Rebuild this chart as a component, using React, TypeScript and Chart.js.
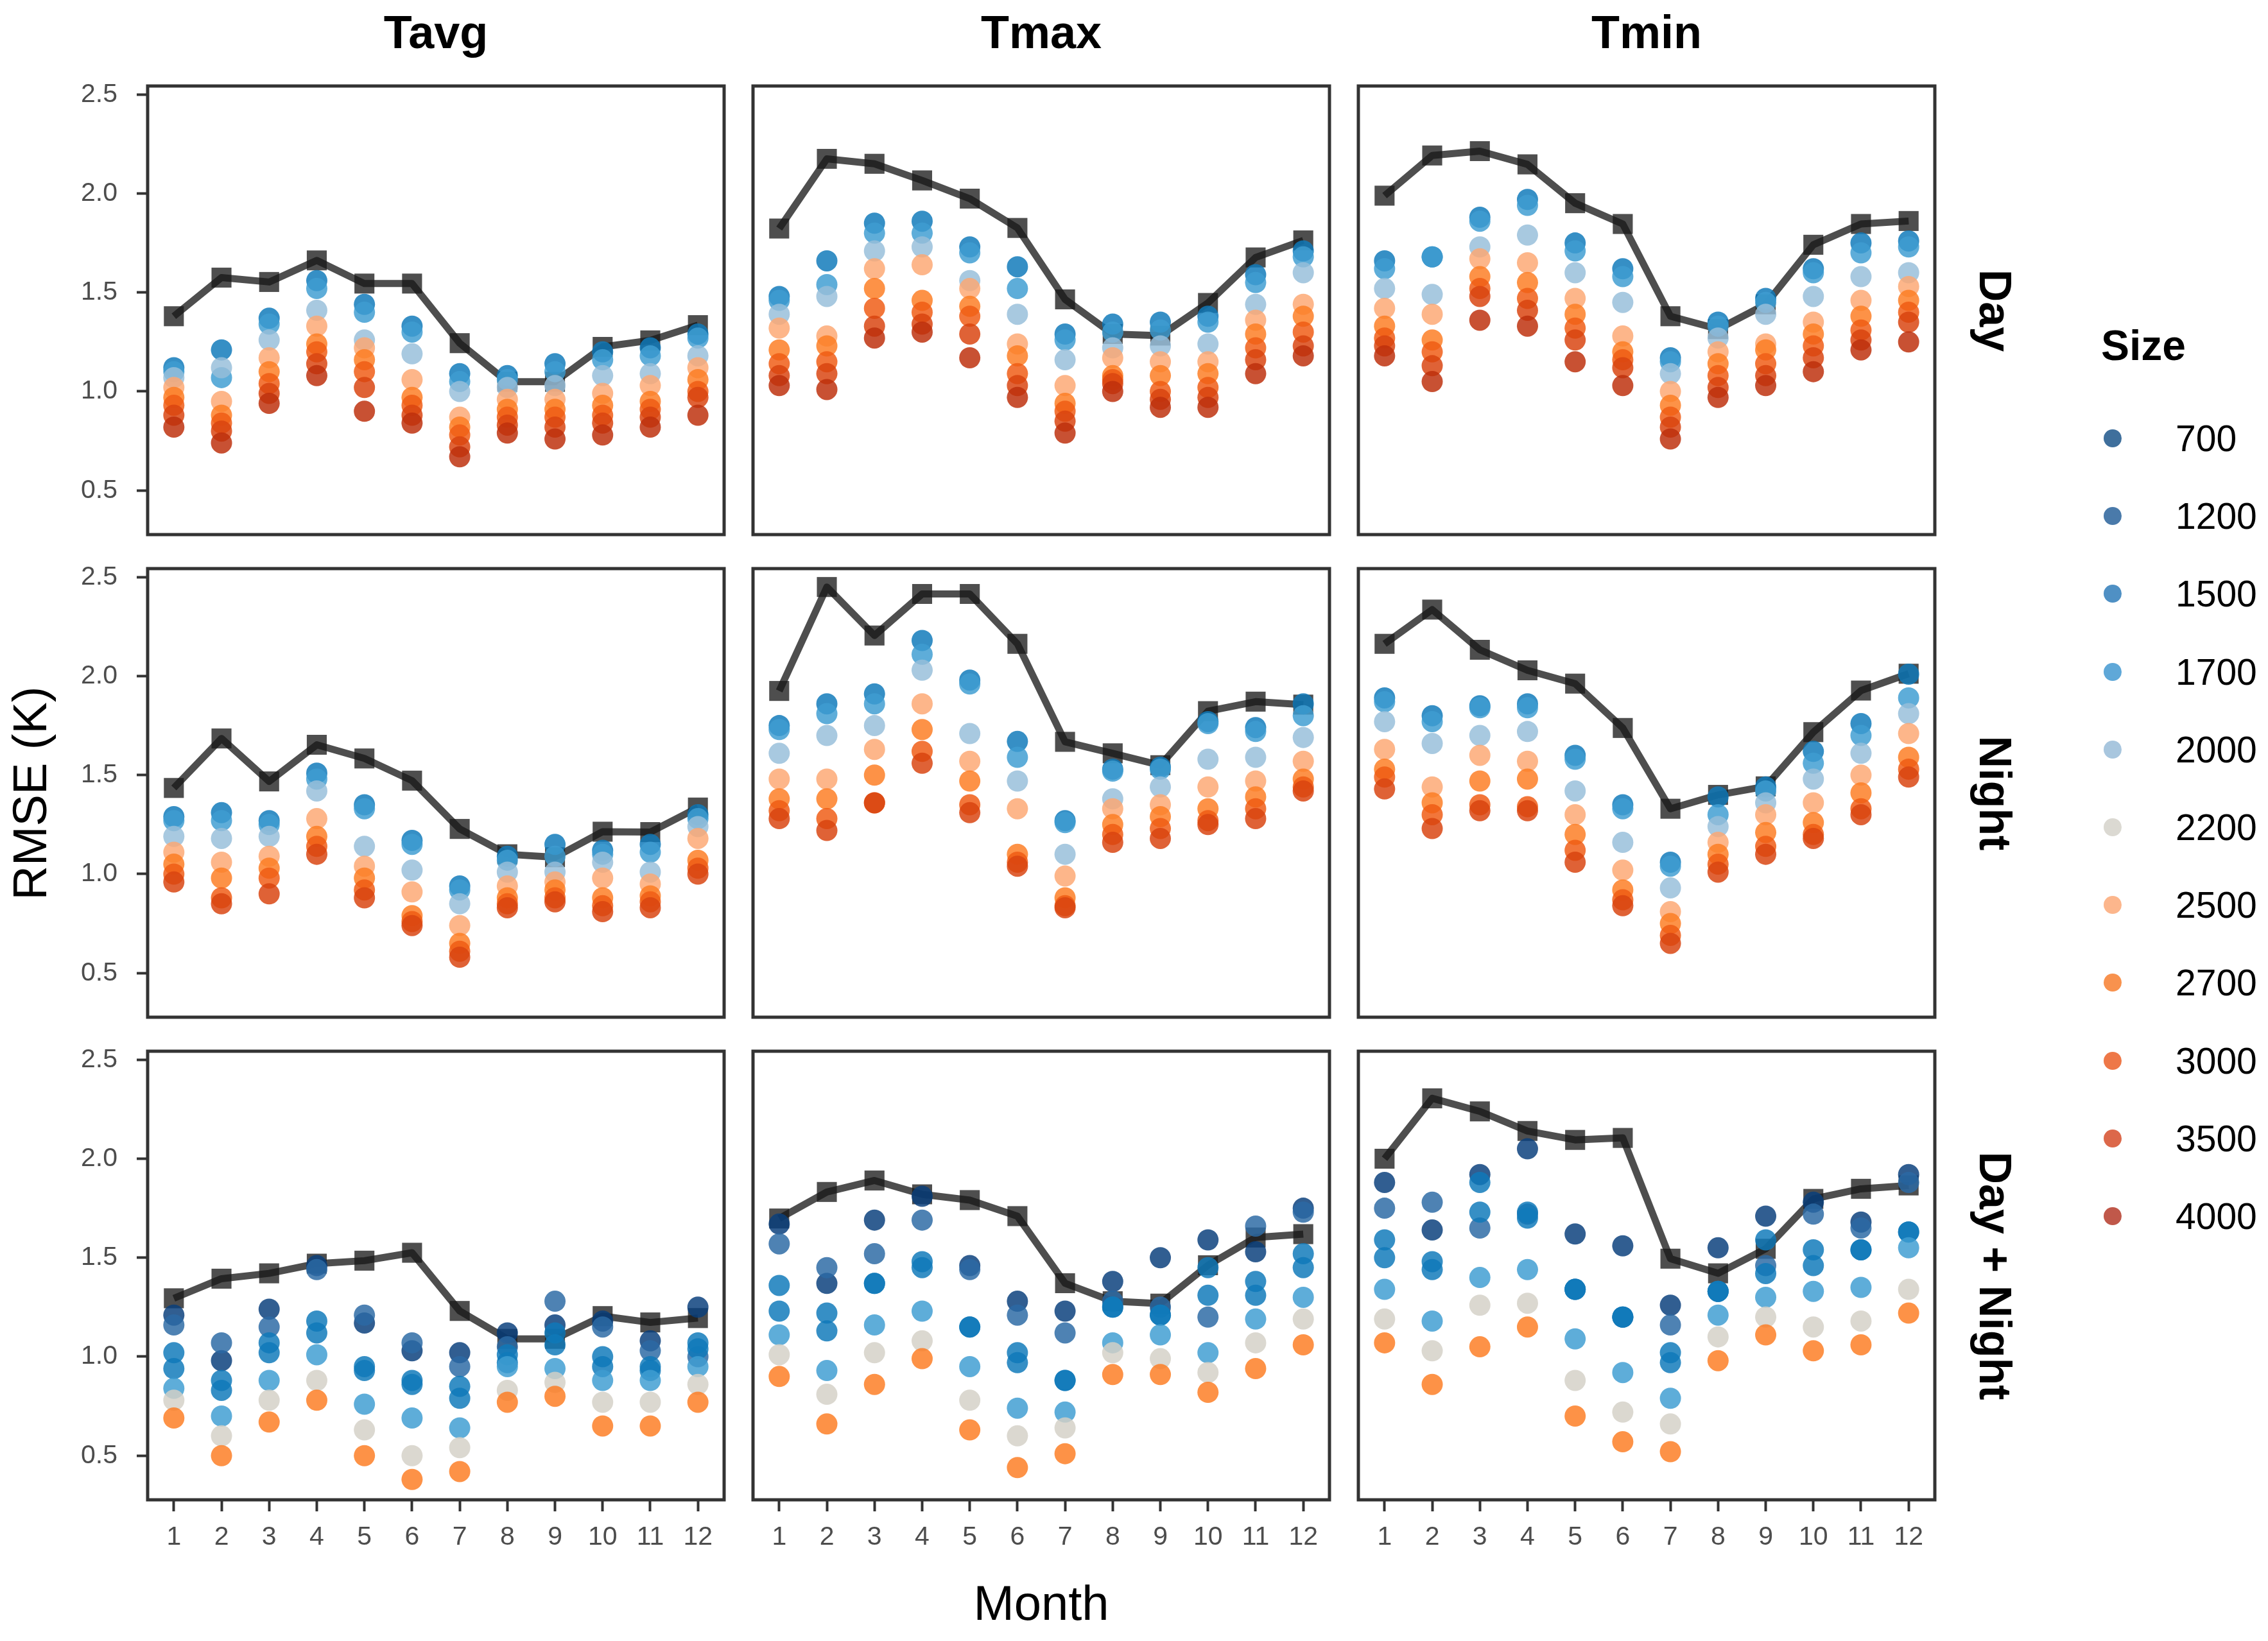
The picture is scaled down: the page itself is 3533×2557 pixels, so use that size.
import React, { useEffect, useRef } from 'react';
import { Chart, registerables } from 'chart.js';

Chart.register(...registerables);

// ---------------- data ----------------
const MONTHS = [1, 2, 3, 4, 5, 6, 7, 8, 9, 10, 11, 12];
const Y_TICKS = [0.5, 1.0, 1.5, 2.0, 2.5];
const COLUMNS = ['Tavg', 'Tmax', 'Tmin'];
const ROWS = ['Day', 'Night', 'Day + Night'];
const SIZES = ['700', '1200', '1500', '1700', '2000', '2200', '2500', '2700', '3000', '3500', '4000'];

type Series = [string, number[]];

// black line (aggregate) per panel
const LINE_DAY_TAVG = [1.38, 1.575, 1.553, 1.662, 1.545, 1.545, 1.244, 1.049, 1.049, 1.225, 1.258, 1.335];
const LINE_DAY_TMAX = [1.823, 2.175, 2.15, 2.066, 1.974, 1.826, 1.465, 1.29, 1.282, 1.447, 1.677, 1.763];
const LINE_DAY_TMIN = [1.989, 2.192, 2.214, 2.147, 1.951, 1.846, 1.38, 1.315, 1.44, 1.741, 1.846, 1.861];
const LINE_NIGHT_TAVG = [1.435, 1.685, 1.468, 1.653, 1.584, 1.472, 1.228, 1.1, 1.085, 1.214, 1.212, 1.336];
const LINE_NIGHT_TMAX = [1.925, 2.45, 2.205, 2.415, 2.415, 2.163, 1.668, 1.61, 1.55, 1.823, 1.871, 1.856];
const LINE_NIGHT_TMIN = [2.163, 2.336, 2.133, 2.029, 1.962, 1.738, 1.33, 1.4, 1.443, 1.717, 1.927, 2.012];
const LINE_DN_TAVG = [1.295, 1.394, 1.421, 1.47, 1.485, 1.525, 1.231, 1.09, 1.09, 1.205, 1.173, 1.195];
const LINE_DN_TMAX = [1.698, 1.832, 1.89, 1.82, 1.791, 1.71, 1.371, 1.28, 1.268, 1.462, 1.602, 1.619];
const LINE_DN_TMIN = [2.0, 2.305, 2.239, 2.14, 2.095, 2.105, 1.495, 1.421, 1.545, 1.797, 1.848, 1.865];

// scatter points per panel (size, value for each month)
const PTS_DAY_TAVG: Series[] = [
  ['1500', [1.12, 1.21, 1.37, 1.56, 1.44, 1.33, 1.09, 1.08, 1.14, 1.20, 1.22, 1.29]],
  ['1700', [1.10, 1.07, 1.34, 1.52, 1.40, 1.30, 1.05, 1.06, 1.10, 1.16, 1.18, 1.27]],
  ['2000', [1.07, 1.12, 1.26, 1.41, 1.26, 1.19, 1.00, 1.02, 1.03, 1.08, 1.09, 1.18]],
  ['2500', [1.02, 0.95, 1.17, 1.33, 1.22, 1.06, 0.87, 0.96, 0.96, 0.99, 1.03, 1.12]],
  ['2700', [0.97, 0.88, 1.10, 1.24, 1.16, 0.97, 0.82, 0.91, 0.91, 0.93, 0.95, 1.06]],
  ['3000', [0.93, 0.84, 1.04, 1.20, 1.10, 0.93, 0.78, 0.87, 0.87, 0.88, 0.91, 1.00]],
  ['3500', [0.88, 0.80, 0.99, 1.14, 1.02, 0.88, 0.72, 0.83, 0.82, 0.84, 0.87, 0.97]],
  ['4000', [0.82, 0.74, 0.94, 1.08, 0.90, 0.84, 0.67, 0.79, 0.76, 0.78, 0.82, 0.88]],
];
const PTS_DAY_TMAX: Series[] = [
  ['1500', [1.48, 1.66, 1.85, 1.86, 1.73, 1.63, 1.29, 1.34, 1.35, 1.38, 1.59, 1.71]],
  ['1700', [1.46, 1.54, 1.80, 1.80, 1.70, 1.52, 1.26, 1.30, 1.31, 1.35, 1.55, 1.68]],
  ['2000', [1.39, 1.48, 1.71, 1.73, 1.56, 1.39, 1.16, 1.22, 1.23, 1.24, 1.44, 1.60]],
  ['2500', [1.32, 1.28, 1.62, 1.64, 1.52, 1.24, 1.03, 1.17, 1.15, 1.15, 1.36, 1.44]],
  ['2700', [1.21, 1.23, 1.52, 1.46, 1.43, 1.18, 0.94, 1.08, 1.08, 1.09, 1.29, 1.38]],
  ['3000', [1.14, 1.15, 1.42, 1.40, 1.38, 1.09, 0.90, 1.06, 1.00, 1.02, 1.22, 1.30]],
  ['3500', [1.08, 1.09, 1.33, 1.34, 1.29, 1.03, 0.85, 1.04, 0.96, 0.97, 1.16, 1.23]],
  ['4000', [1.03, 1.01, 1.27, 1.30, 1.17, 0.97, 0.79, 1.00, 0.92, 0.92, 1.09, 1.18]],
];
const PTS_DAY_TMIN: Series[] = [
  ['1500', [1.66, 1.68, 1.88, 1.97, 1.75, 1.62, 1.17, 1.35, 1.47, 1.62, 1.75, 1.76]],
  ['1700', [1.62, 1.68, 1.86, 1.94, 1.71, 1.58, 1.15, 1.33, 1.45, 1.60, 1.70, 1.73]],
  ['2000', [1.52, 1.49, 1.73, 1.79, 1.60, 1.45, 1.09, 1.27, 1.39, 1.48, 1.58, 1.60]],
  ['2500', [1.42, 1.39, 1.67, 1.65, 1.47, 1.28, 1.00, 1.20, 1.24, 1.35, 1.46, 1.53]],
  ['2700', [1.33, 1.26, 1.58, 1.55, 1.39, 1.20, 0.93, 1.14, 1.21, 1.29, 1.38, 1.46]],
  ['3000', [1.27, 1.20, 1.52, 1.47, 1.32, 1.16, 0.87, 1.08, 1.14, 1.23, 1.31, 1.40]],
  ['3500', [1.23, 1.13, 1.48, 1.41, 1.26, 1.12, 0.82, 1.02, 1.08, 1.17, 1.26, 1.35]],
  ['4000', [1.18, 1.05, 1.36, 1.33, 1.15, 1.03, 0.76, 0.97, 1.03, 1.10, 1.21, 1.25]],
];
const PTS_NIGHT_TAVG: Series[] = [
  ['1500', [1.29, 1.31, 1.27, 1.51, 1.35, 1.17, 0.94, 1.09, 1.15, 1.12, 1.15, 1.30]],
  ['1700', [1.27, 1.27, 1.25, 1.48, 1.33, 1.15, 0.92, 1.07, 1.09, 1.10, 1.11, 1.28]],
  ['2000', [1.19, 1.18, 1.19, 1.42, 1.14, 1.02, 0.85, 1.01, 1.01, 1.06, 1.01, 1.24]],
  ['2500', [1.11, 1.06, 1.09, 1.28, 1.04, 0.91, 0.74, 0.94, 0.96, 0.98, 0.95, 1.18]],
  ['2700', [1.05, 0.98, 1.03, 1.19, 0.98, 0.79, 0.65, 0.88, 0.92, 0.88, 0.89, 1.07]],
  ['3000', [1.00, 0.88, 0.98, 1.14, 0.92, 0.76, 0.61, 0.85, 0.88, 0.84, 0.86, 1.03]],
  ['3500', [0.96, 0.85, 0.90, 1.10, 0.88, 0.74, 0.58, 0.83, 0.86, 0.81, 0.83, 1.00]],
];
const PTS_NIGHT_TMAX: Series[] = [
  ['1500', [1.75, 1.86, 1.91, 2.18, 1.98, 1.67, 1.27, 1.53, 1.54, 1.77, 1.74, 1.86]],
  ['1700', [1.73, 1.81, 1.86, 2.11, 1.96, 1.59, 1.26, 1.52, 1.53, 1.76, 1.72, 1.80]],
  ['2000', [1.61, 1.70, 1.75, 2.03, 1.71, 1.47, 1.10, 1.38, 1.44, 1.58, 1.59, 1.69]],
  ['2500', [1.48, 1.48, 1.63, 1.86, 1.57, 1.33, 0.99, 1.33, 1.35, 1.44, 1.47, 1.57]],
  ['2700', [1.38, 1.38, 1.50, 1.73, 1.47, 1.10, 0.88, 1.25, 1.29, 1.33, 1.39, 1.48]],
  ['3000', [1.32, 1.28, 1.36, 1.62, 1.35, 1.06, 0.84, 1.20, 1.23, 1.27, 1.33, 1.44]],
  ['3500', [1.28, 1.22, 1.36, 1.56, 1.31, 1.04, 0.83, 1.16, 1.18, 1.25, 1.28, 1.42]],
];
const PTS_NIGHT_TMIN: Series[] = [
  ['1500', [1.89, 1.80, 1.85, 1.86, 1.60, 1.35, 1.06, 1.39, 1.44, 1.62, 1.76, 2.01]],
  ['1700', [1.87, 1.77, 1.84, 1.84, 1.58, 1.33, 1.04, 1.30, 1.42, 1.56, 1.70, 1.89]],
  ['2000', [1.77, 1.66, 1.70, 1.72, 1.42, 1.16, 0.93, 1.24, 1.36, 1.48, 1.61, 1.81]],
  ['2500', [1.63, 1.44, 1.60, 1.57, 1.30, 1.02, 0.81, 1.16, 1.30, 1.36, 1.50, 1.71]],
  ['2700', [1.53, 1.36, 1.47, 1.48, 1.20, 0.92, 0.75, 1.10, 1.21, 1.26, 1.41, 1.59]],
  ['3000', [1.49, 1.30, 1.35, 1.34, 1.12, 0.87, 0.69, 1.05, 1.14, 1.20, 1.33, 1.53]],
  ['3500', [1.43, 1.23, 1.32, 1.32, 1.06, 0.84, 0.65, 1.01, 1.10, 1.18, 1.30, 1.49]],
];
const PTS_DN_TAVG: Series[] = [
  ['700', [1.21, 0.98, 1.24, 1.46, 1.17, 1.03, 1.02, 1.12, 1.16, 1.18, 1.08, 1.25]],
  ['1200', [1.16, 1.07, 1.15, 1.44, 1.21, 1.07, 0.95, 1.05, 1.28, 1.15, 1.03, 1.00]],
  ['1500', [1.02, 0.88, 1.07, 1.18, 0.95, 0.88, 0.85, 1.01, 1.12, 1.00, 0.95, 1.07]],
  ['1500', [0.94, 0.83, 1.02, 1.12, 0.93, 0.86, 0.79, 0.97, 1.06, 0.95, 0.93, 1.04]],
  ['1700', [0.84, 0.70, 0.88, 1.01, 0.76, 0.69, 0.64, 0.95, 0.94, 0.88, 0.88, 0.95]],
  ['2200', [0.78, 0.60, 0.78, 0.88, 0.63, 0.50, 0.54, 0.83, 0.87, 0.77, 0.77, 0.86]],
  ['2700', [0.69, 0.50, 0.67, 0.78, 0.50, 0.38, 0.42, 0.77, 0.80, 0.65, 0.65, 0.77]],
];
const PTS_DN_TMAX: Series[] = [
  ['700', [1.67, 1.37, 1.69, 1.81, 1.46, 1.28, 1.23, 1.38, 1.50, 1.59, 1.53, 1.75]],
  ['1200', [1.57, 1.45, 1.52, 1.69, 1.44, 1.21, 1.12, 1.28, 1.25, 1.20, 1.66, 1.73]],
  ['1500', [1.36, 1.22, 1.37, 1.48, 1.15, 1.02, 0.88, 1.25, 1.21, 1.45, 1.38, 1.52]],
  ['1500', [1.23, 1.13, 1.37, 1.45, 1.15, 0.97, 0.88, 1.25, 1.21, 1.31, 1.31, 1.45]],
  ['1700', [1.11, 0.93, 1.16, 1.23, 0.95, 0.74, 0.72, 1.07, 1.11, 1.02, 1.19, 1.30]],
  ['2200', [1.01, 0.81, 1.02, 1.08, 0.78, 0.60, 0.64, 1.02, 0.99, 0.92, 1.07, 1.19]],
  ['2700', [0.90, 0.66, 0.86, 0.99, 0.63, 0.44, 0.51, 0.91, 0.91, 0.82, 0.94, 1.06]],
];
const PTS_DN_TMIN: Series[] = [
  ['700', [1.88, 1.64, 1.92, 2.05, 1.62, 1.56, 1.26, 1.55, 1.71, 1.78, 1.68, 1.92]],
  ['1200', [1.75, 1.78, 1.65, 1.72, 1.34, 1.20, 1.16, 1.33, 1.46, 1.72, 1.65, 1.88]],
  ['1500', [1.59, 1.48, 1.88, 1.70, 1.34, 1.20, 1.02, 1.33, 1.59, 1.54, 1.54, 1.63]],
  ['1500', [1.50, 1.44, 1.73, 1.73, 1.34, 1.20, 0.97, 1.33, 1.42, 1.46, 1.54, 1.63]],
  ['1700', [1.34, 1.18, 1.40, 1.44, 1.09, 0.92, 0.79, 1.21, 1.30, 1.33, 1.35, 1.55]],
  ['2200', [1.19, 1.03, 1.26, 1.27, 0.88, 0.72, 0.66, 1.10, 1.20, 1.15, 1.18, 1.34]],
  ['2700', [1.07, 0.86, 1.05, 1.15, 0.70, 0.57, 0.52, 0.98, 1.11, 1.03, 1.06, 1.22]],
];

const PANELS = [
  [
    { line: LINE_DAY_TAVG, pts: PTS_DAY_TAVG },
    { line: LINE_DAY_TMAX, pts: PTS_DAY_TMAX },
    { line: LINE_DAY_TMIN, pts: PTS_DAY_TMIN },
  ],
  [
    { line: LINE_NIGHT_TAVG, pts: PTS_NIGHT_TAVG },
    { line: LINE_NIGHT_TMAX, pts: PTS_NIGHT_TMAX },
    { line: LINE_NIGHT_TMIN, pts: PTS_NIGHT_TMIN },
  ],
  [
    { line: LINE_DN_TAVG, pts: PTS_DN_TAVG },
    { line: LINE_DN_TMAX, pts: PTS_DN_TMAX },
    { line: LINE_DN_TMIN, pts: PTS_DN_TMIN },
  ],
];

// ---------------- styles ----------------
const SIZE_COLORS: Record<string, string> = {
  '700': '#0a3f7c',
  '1200': '#2c6aa5',
  '1500': '#0f7aba',
  '1700': '#3f9dd2',
  '2000': '#97bfda',
  '2200': '#d4d0c7',
  '2500': '#fda874',
  '2700': '#fd7d24',
  '3000': '#f05c14',
  '3500': '#d9440f',
  '4000': '#bd300c',
};
const LEGEND_COLORS: Record<string, string> = {
  '700': '#3f6f9c',
  '1200': '#4a7aaa',
  '1500': '#4f90c4',
  '1700': '#5fa8d8',
  '2000': '#a8c6de',
  '2200': '#dbd9d2',
  '2500': '#fcb68c',
  '2700': '#f8924e',
  '3000': '#ee7848',
  '3500': '#dc684a',
  '4000': '#c0584a',
};
const LINE_COLOR = 'rgba(22,22,22,0.76)';
const FONT = "'Liberation Sans', Arial, Helvetica, sans-serif";

const PANEL_X = [230, 1173, 2116];
const PANEL_Y = [134, 886, 1638];
const PANEL_W = 898;
const PANEL_H = 699;
const Y_MIN = 0.277;
const Y_MAX = 2.543;
const X_MIN = 0.45;
const X_MAX = 12.55;

function rgba(hex: string, a: number) {
  const h = hex.replace('#', '');
  const r = parseInt(h.slice(0, 2), 16);
  const g = parseInt(h.slice(2, 4), 16);
  const b = parseInt(h.slice(4, 6), 16);
  return `rgba(${r},${g},${b},${a})`;
}

const framePlugin = {
  id: 'panelFrame',
  afterDatasetsDraw(chart: any) {
    const { ctx, chartArea } = chart;
    ctx.save();
    ctx.strokeStyle = '#333333';
    ctx.lineWidth = 5;
    ctx.strokeRect(chartArea.left, chartArea.top, chartArea.right - chartArea.left, chartArea.bottom - chartArea.top);
    ctx.restore();
  },
};

function zeroPadding(s: any) {
  s.paddingTop = 0;
  s.paddingBottom = 0;
  s.paddingLeft = 0;
  s.paddingRight = 0;
}

function Panel({ row, col }: { row: number; col: number }) {
  const ref = useRef<HTMLCanvasElement>(null);
  const isLeft = col === 0;
  const isBottom = row === 2;
  const P = 10;
  const L = 130;
  const B = 90;
  const w = PANEL_W + 2 * P + (isLeft ? L : 0);
  const h = PANEL_H + 2 * P + (isBottom ? B : 0);
  const left = PANEL_X[col] - P - (isLeft ? L : 0);
  const top = PANEL_Y[row] - P;

  useEffect(() => {
    const { line, pts } = PANELS[row][col];
    const datasets: any[] = [
      {
        label: 'all',
        data: MONTHS.map((m, i) => ({ x: m, y: line[i] })),
        showLine: true,
        borderColor: LINE_COLOR,
        borderWidth: 11,
        borderJoinStyle: 'round',
        pointStyle: 'rect',
        pointRadius: 22,
        pointHoverRadius: 22,
        pointBackgroundColor: LINE_COLOR,
        pointBorderWidth: 0,
        order: 1000,
      },
      ...pts.map(([size, vals], idx) => ({
        label: size,
        data: MONTHS.map((m, i) => ({ x: m, y: vals[i] })).filter((d) => d.y != null),
        showLine: false,
        backgroundColor: rgba(SIZE_COLORS[size], 0.84),
        pointBackgroundColor: rgba(SIZE_COLORS[size], 0.84),
        pointBorderWidth: 0,
        borderWidth: 0,
        pointRadius: 16.5,
        pointHoverRadius: 16.5,
        order: pts.length - idx,
      })),
    ];
    const tickFont = { family: FONT, size: 41 };
    const chart = new Chart(ref.current as HTMLCanvasElement, {
      type: 'scatter',
      data: { datasets },
      options: {
        animation: false,
        responsive: false,
        maintainAspectRatio: false,
        events: [],
        layout: { autoPadding: false, padding: { left: P, right: P, top: P, bottom: P } },
        plugins: { legend: { display: false }, tooltip: { enabled: false } },
        scales: {
          x: {
            type: 'linear',
            min: X_MIN,
            max: X_MAX,
            display: isBottom,
            afterBuildTicks: (s: any) => {
              s.ticks = MONTHS.map((v) => ({ value: v }));
            },
            afterFit: (s: any) => {
              s.height = isBottom ? B : 0;
              zeroPadding(s);
            },
            ticks: {
              font: tickFont,
              color: '#4d4d4d',
              padding: 16,
              autoSkip: false,
              maxRotation: 0,
              minRotation: 0,
              callback: (v: any) => String(v),
            },
            grid: {
              display: true,
              drawOnChartArea: false,
              drawTicks: true,
              tickLength: 18,
              tickWidth: 4,
              tickColor: '#333333',
            },
            border: { display: false },
          },
          y: {
            type: 'linear',
            min: Y_MIN,
            max: Y_MAX,
            display: isLeft,
            afterBuildTicks: (s: any) => {
              s.ticks = Y_TICKS.map((v) => ({ value: v }));
            },
            afterFit: (s: any) => {
              s.width = isLeft ? L : 0;
              zeroPadding(s);
            },
            ticks: {
              font: tickFont,
              color: '#4d4d4d',
              padding: 30,
              callback: (v: any) => Number(v).toFixed(1),
            },
            grid: {
              display: true,
              drawOnChartArea: false,
              drawTicks: true,
              tickLength: 17,
              tickWidth: 4,
              tickColor: '#333333',
            },
            border: { display: false },
          },
        },
      } as any,
      plugins: [framePlugin],
    });
    return () => chart.destroy();
  }, [row, col]);

  return (
    <canvas
      ref={ref}
      width={w}
      height={h}
      style={{ position: 'absolute', left, top, width: w, height: h }}
    />
  );
}

export default function App() {
  useEffect(() => {
    document.body.style.margin = '0';
    document.body.style.background = '#ffffff';
  }, []);

  const textBase: React.CSSProperties = {
    position: 'absolute',
    fontFamily: FONT,
    color: '#000',
    whiteSpace: 'nowrap',
    lineHeight: 1,
  };

  return (
    <div style={{ position: 'absolute', left: 0, top: 0, width: 3533, height: 2557, background: '#fff', overflow: 'hidden' }}>
      {ROWS.map((_, r) => COLUMNS.map((__, c) => <Panel key={`${r}-${c}`} row={r} col={c} />))}

      {COLUMNS.map((t, c) => (
        <div
          key={t}
          style={{
            ...textBase,
            left: PANEL_X[c] + PANEL_W / 2,
            top: 50,
            fontSize: 72,
            fontWeight: 700,
            transform: 'translate(-50%, -50%)',
          }}
        >
          {t}
        </div>
      ))}

      {ROWS.map((t, r) => (
        <div
          key={t}
          style={{
            ...textBase,
            left: 3108,
            top: PANEL_Y[r] + PANEL_H / 2,
            fontSize: 70,
            fontWeight: 700,
            transform: 'translate(-50%, -50%) rotate(90deg)',
          }}
        >
          {t}
        </div>
      ))}

      <div
        style={{
          ...textBase,
          left: 47,
          top: PANEL_Y[1] + PANEL_H / 2,
          fontSize: 74,
          transform: 'translate(-50%, -50%) rotate(-90deg)',
        }}
      >
        RMSE (K)
      </div>

      <div
        style={{
          ...textBase,
          left: PANEL_X[1] + PANEL_W / 2,
          top: 2498,
          fontSize: 76,
          transform: 'translate(-50%, -50%)',
        }}
      >
        Month
      </div>

      <div style={{ ...textBase, left: 3273, top: 538, fontSize: 66, fontWeight: 700, transform: 'translateY(-50%)' }}>
        Size
      </div>
      {SIZES.map((s, i) => (
        <React.Fragment key={s}>
          <div
            style={{
              position: 'absolute',
              left: 3291 - 14,
              top: 683 + i * 121.2 - 14,
              width: 28,
              height: 28,
              borderRadius: '50%',
              background: LEGEND_COLORS[s],
            }}
          />
          <div
            style={{
              ...textBase,
              left: 3389,
              top: 683 + i * 121.2,
              fontSize: 57,
              transform: 'translateY(-50%)',
            }}
          >
            {s}
          </div>
        </React.Fragment>
      ))}
    </div>
  );
}
